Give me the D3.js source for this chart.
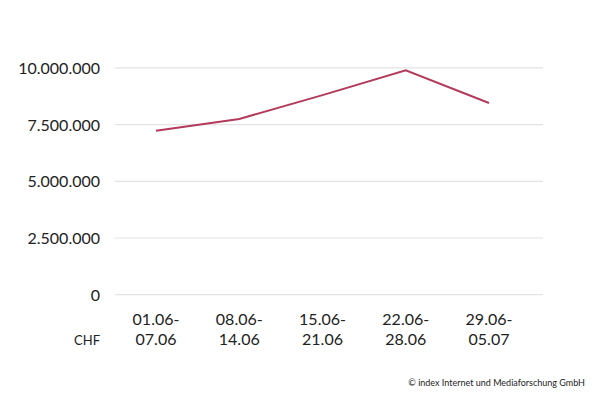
<!DOCTYPE html>
<html>
<head>
<meta charset="utf-8">
<script src="https://cdn.jsdelivr.net/npm/d3@7"></script>
<style>
  body { margin: 0; background: #fff; }
  text { font-family: Lato, "Noto Sans", sans-serif; fill: #222; }
</style>
</head>
<body>
<script>
var weeksFrom = ["01.06-", "08.06-", "15.06-", "22.06-", "29.06-"];
var weeksTo = ["07.06", "14.06", "21.06", "28.06", "05.07"];
var values = [7230000, 7750000, 8800000, 9890000, 8450000];
var yTicks = [0, 2500000, 5000000, 7500000, 10000000];

var width = 600, height = 400;

var svg = d3.select("body").append("svg")
    .attr("width", width)
    .attr("height", height);

var x = d3.scalePoint()
    .domain(weeksFrom)
    .range([156, 489]);

var y = d3.scaleLinear()
    .domain([0, 10000000])
    .range([294.7, 67.9]);

var fmt = function(d) {
    return d3.format(",")(d).replace(/,/g, ".");
};

// grid
svg.append("g")
    .selectAll("line")
    .data(yTicks)
    .enter().append("line")
    .attr("x1", 115)
    .attr("x2", 543)
    .attr("y1", function(d) { return y(d); })
    .attr("y2", function(d) { return y(d); })
    .attr("stroke", "#e3e3e3")
    .attr("stroke-width", 1.2);

// y labels
svg.append("g")
    .selectAll("text")
    .data(yTicks)
    .enter().append("text")
    .attr("x", 100)
    .attr("y", function(d) { return y(d) + 6; })
    .attr("text-anchor", "end")
    .style("font-size", "16px")
    .text(fmt);

// x labels
var xl = svg.append("g")
    .selectAll("text")
    .data(weeksFrom)
    .enter().append("text")
    .attr("text-anchor", "middle")
    .style("font-size", "16px");
xl.append("tspan")
    .attr("x", function(d) { return x(d); })
    .attr("y", 325)
    .text(function(d) { return d; });
xl.append("tspan")
    .attr("x", function(d) { return x(d); })
    .attr("y", 345)
    .text(function(d, i) { return weeksTo[i]; });

svg.append("text")
    .attr("x", 100)
    .attr("y", 345)
    .attr("text-anchor", "end")
    .style("font-size", "13px")
    .text("CHF");

var line = d3.line()
    .x(function(d, i) { return x(weeksFrom[i]); })
    .y(function(d) { return y(d); });

svg.append("path")
    .datum(values)
    .attr("d", line)
    .attr("fill", "none")
    .attr("stroke", "#b33a5c")
    .attr("stroke-width", 2);

svg.append("text")
    .attr("x", 585)
    .attr("y", 386)
    .attr("text-anchor", "end")
    .style("font-size", "9px")
    .text("© index Internet und Mediaforschung GmbH");
</script>
</body>
</html>
